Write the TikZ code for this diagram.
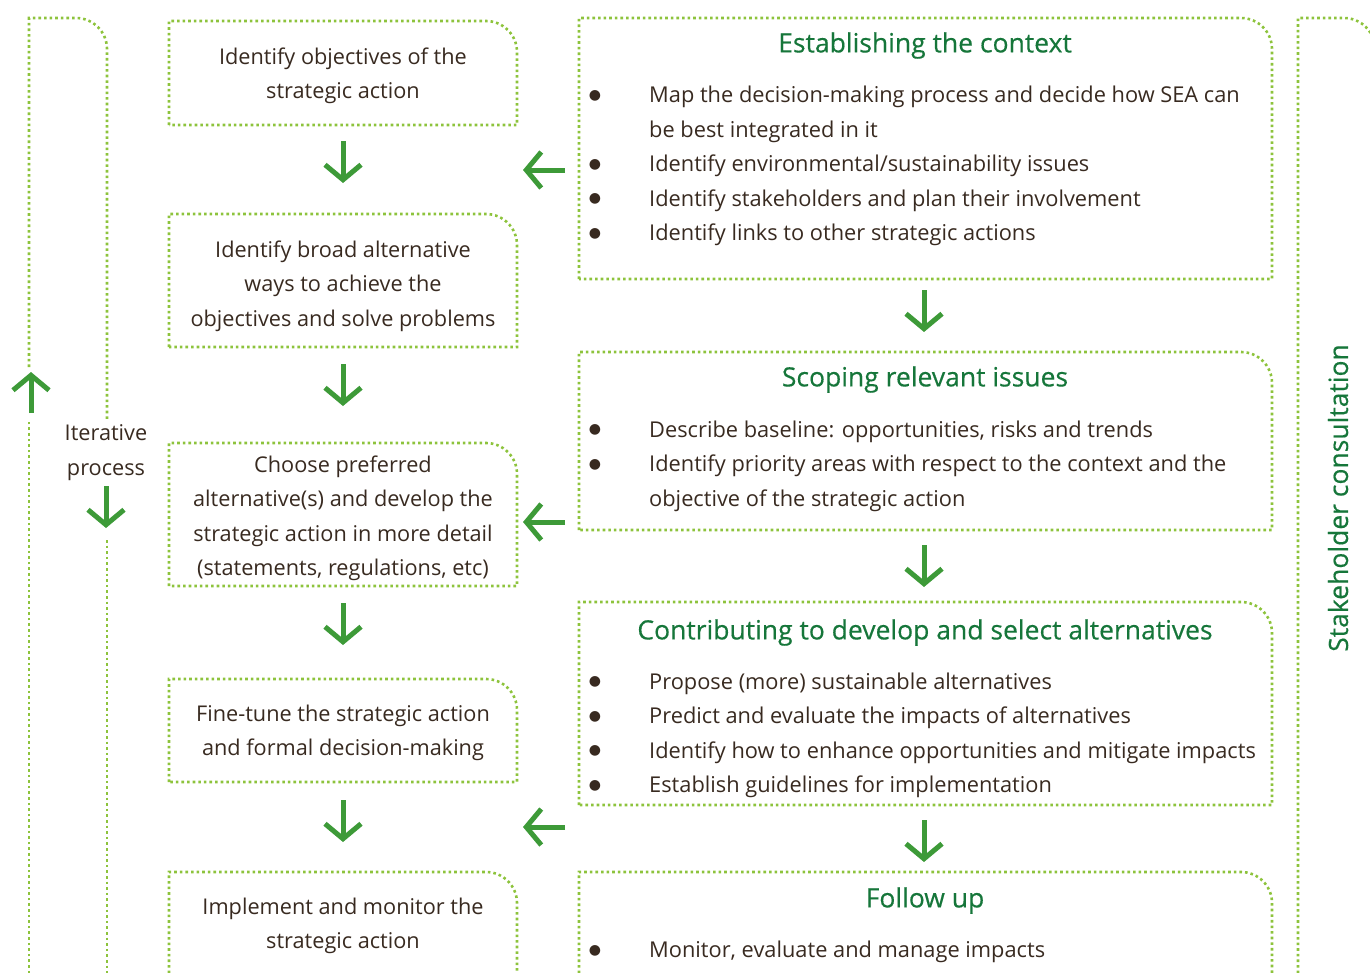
\documentclass[tikz,border=0pt]{standalone}
\usepackage{fontspec}
\setmainfont{Open Sans}
\newfontfamily\headfont[FakeBold=0.4]{Open Sans}
\newfontfamily\symfont{DejaVu Sans}
\usetikzlibrary{arrows.meta}

\definecolor{dotgreen}{RGB}{141,195,60}
\definecolor{arrgreen}{RGB}{61,154,56}
\definecolor{headgreen}{RGB}{22,118,58}
\definecolor{txtbrown}{RGB}{56,42,32}

% box with one rounded corner (top right)
\newcommand{\tabbox}[4]{ (#1,#4) -- (#1,#3) -- ({#2-31},#3) arc[start angle=90,end angle=0,radius=31] -- (#2,#4) -- cycle }
\newcommand{\tabopen}[3]{ (#1,-990) -- (#1,#3) -- ({#2-31},#3) arc[start angle=90,end angle=0,radius=31] -- (#2,-990) }
\newcommand{\bul}{\llap{\raisebox{3.5pt}{\symfont\fontsize{14pt}{0pt}\selectfont ●}\hspace{48pt}}}

\tikzset{
  dotline/.style={draw=dotgreen, line width=2.6pt, dash pattern=on 2.6pt off 3pt},
  flowarr/.style={draw=arrgreen, line width=5pt,
    -{Straight Barb[length=15pt,width=36pt,line cap=butt,line join=miter]}},
  stepbox/.style={text=txtbrown, align=center, font=\fontsize{21.7pt}{34.5pt}\selectfont},
  headtxt/.style={text=headgreen, font=\headfont\fontsize{26.5pt}{30pt}\selectfont},
  listtxt/.style={text=txtbrown, align=left, anchor=west, inner sep=0pt, font=\fontsize{21.8pt}{34.5pt}\selectfont}
}

\begin{document}
\begin{tikzpicture}[x=1pt,y=1pt]

    \useasboundingbox (0,0) rectangle (1370,-972);
    \clip (0,0) rectangle (1370,-972);

    % frames
    \draw[dotline] (29,-990) -- (29,-422);
    \draw[dotline] (29,-367) -- (29,-18) -- (76,-18) arc[start angle=90,end angle=0,radius=31] -- (107,-49) -- (107,-420);
    \draw[dotline] (107,-540) -- (107,-990);
    \draw[dotline] (1298,-990) -- (1298,-18) -- (1344,-18) arc[start angle=90,end angle=0,radius=31] -- (1375,-49) -- (1375,-990);

    \draw[dotline] \tabbox{169}{517}{-21}{-125};
    \draw[dotline] \tabbox{169}{517}{-214}{-347};
    \draw[dotline] \tabbox{169}{517}{-443}{-586};
    \draw[dotline] \tabbox{169}{517}{-679}{-782};
    \draw[dotline] \tabopen{169}{517}{-872};

    \draw[dotline] \tabbox{579}{1272}{-18}{-279};
    \draw[dotline] \tabbox{579}{1272}{-352}{-530};
    \draw[dotline] \tabbox{579}{1272}{-602}{-805};
    \draw[dotline] \tabopen{579}{1272}{-872};

    % left column
    \node[stepbox] (objective) at (343,-76) {Identify objectives of the\\strategic action};
    \node[stepbox] (broadalt) at (343,-286) {Identify broad alternative\\ways to achieve the\\objectives and solve problems};
    \node[stepbox] (preferred) at (343,-518.5) {Choose preferred\\alternative(s) and develop the\\strategic action in more detail\\(statements, regulations, etc)};
    \node[stepbox] (finetune) at (343,-733) {Fine-tune the strategic action\\and formal decision-making};
    \node[stepbox] (implement) at (343,-926) {Implement and monitor the\\strategic action};
    \node[stepbox] (iterative) at (106,-452.5) {Iterative\\process};

    % right column
    \node[headtxt] (context) at (925,-45.5) {Establishing the context};
    \node[listtxt] (contextlist) at (649,-166) {\bul Map the decision-making process and decide how SEA can\\be best integrated in it\\\bul Identify environmental/sustainability issues\\\bul Identify stakeholders and plan their involvement\\\bul Identify links to other strategic actions};
    \node[headtxt] (scoping) at (925,-379.5) {Scoping relevant issues};
    \node[listtxt] (scopinglist) at (649,-466) {\bul Describe baseline: opportunities, risks and trends\\\bul Identify priority areas with respect to the context and the\\objective of the strategic action};
    \node[headtxt] (contrib) at (925,-632.5) {Contributing to develop and select alternatives};
    \node[listtxt] (contriblist) at (649,-735.5) {\bul Propose (more) sustainable alternatives\\\bul Predict and evaluate the impacts of alternatives\\\bul Identify how to enhance opportunities and mitigate impacts\\\bul Establish guidelines for implementation};
    \node[headtxt] (followup) at (925,-900.5) {Follow up};
    \node[listtxt] (followlist) at (649,-952) {\bul Monitor, evaluate and manage impacts};

    \node[headtxt, rotate=90] (stakeholder) at (1338,-498) {Stakeholder consultation};

    % arrows
    \foreach \y [count=\i] in {141,364,603,800} {
      \coordinate (ld\i) at (343,-\y);
      \draw[flowarr] (ld\i) -- ++(0,-42);
    }
    \foreach \y [count=\i] in {290,545,820} {
      \coordinate (rd\i) at (924,-\y);
      \draw[flowarr] (rd\i) -- ++(0,-42);
    }
    \foreach \y [count=\i] in {170,522,827} {
      \coordinate (lt\i) at (565,-\y);
      \draw[flowarr] (lt\i) -- ++(-42,0);
    }
    \coordinate (itup) at (31,-413);
    \coordinate (itdown) at (106,-486);
    \draw[flowarr] (itup) -- ++(0,41);
    \draw[flowarr] (itdown) -- ++(0,-42);

\end{tikzpicture}
\end{document}
